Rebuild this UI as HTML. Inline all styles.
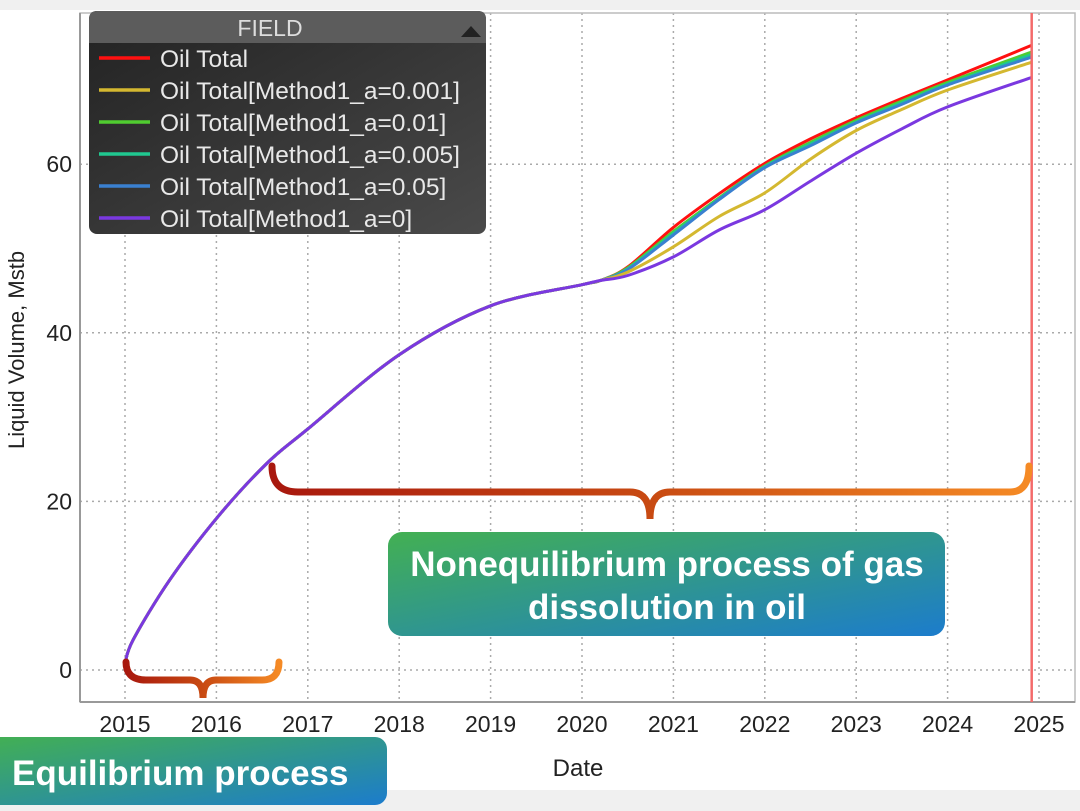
<!DOCTYPE html>
<html><head><meta charset="utf-8"><style>
body{margin:0;width:1080px;height:811px;overflow:hidden;background:#f0f0f0;font-family:"Liberation Sans",sans-serif}
</style></head><body>
<svg width="1080" height="811" style="position:absolute;left:0;top:0">
<defs>
<linearGradient id="br" x1="0" x2="1" y1="0" y2="0"><stop offset="0" stop-color="#a8180e"/><stop offset="0.5" stop-color="#c84a12"/><stop offset="1" stop-color="#f58a25"/></linearGradient>
<linearGradient id="bx" x1="0" x2="1" y1="0" y2="1"><stop offset="0" stop-color="#43b052"/><stop offset="1" stop-color="#1c7ccc"/></linearGradient>
<linearGradient id="lg" x1="0" x2="1" y1="0" y2="1"><stop offset="0" stop-color="#222"/><stop offset="1" stop-color="#4a4a4a"/></linearGradient>
</defs>
<rect x="0" y="10" width="1080" height="780" fill="#fff"/>
<g id="grid"></g>
<rect x="80" y="13" width="995" height="689" fill="none" stroke="#bbb" stroke-width="1.5"/>
<line x1="80" y1="13" x2="80" y2="702" stroke="#999" stroke-width="2"/>
<line x1="80" y1="702" x2="1075" y2="702" stroke="#999" stroke-width="2"/>
<g id="ticks"></g>
<g id="series"></g>
<line id="cursor" y1="13" y2="702" stroke="#f46a6a" stroke-width="2.5"/>
<text x="24" y="350" transform="rotate(-90 24 350)" text-anchor="middle" font-size="22" fill="#222">Liquid Volume, Mstb</text>
<text x="578" y="776" text-anchor="middle" font-size="24" fill="#222">Date</text>
<path d="M126,662 Q126,680 146,680 L190,680 Q203,680 203,698 Q203,680 216,680 L262,680 Q279,680 279,662" fill="none" stroke="url(#br)" stroke-width="7" stroke-linecap="round"/>
<path d="M272,466 Q272,492 298,492 L630,492 Q650,492 650,519 Q650,492 670,492 L1010,492 Q1029,492 1029,466" fill="none" stroke="url(#br)" stroke-width="7" stroke-linecap="round"/>
<rect x="388" y="532" width="557" height="104" rx="14" fill="url(#bx)"/>
<text x="667" y="576" text-anchor="middle" font-size="35" font-weight="bold" fill="#fff">Nonequilibrium process of gas</text>
<text x="667" y="619" text-anchor="middle" font-size="35" font-weight="bold" fill="#fff">dissolution in oil</text>
<rect x="-14" y="737" width="401" height="68" rx="12" fill="url(#bx)"/>
<text x="12" y="785" font-size="35" font-weight="bold" fill="#fff">Equilibrium process</text>
<g>
<rect x="89" y="11" width="397" height="223" rx="8" fill="url(#lg)"/>
<path d="M89,43 L89,19 Q89,11 97,11 L478,11 Q486,11 486,19 L486,43 Z" fill="#5c5c5c"/>
<text x="270" y="36" text-anchor="middle" font-size="23" fill="#ddd">FIELD</text>
<path d="M461,37 L471,26 L481,37 Z" fill="#222"/>
<g id="legitems"></g>
</g>
</svg>
<script>
const years=[2015,2016,2017,2018,2019,2020,2021,2022,2023,2024,2025];
const yTicks=[0,20,40,60];
const names=["Oil Total","Oil Total[Method1_a=0.001]","Oil Total[Method1_a=0.01]","Oil Total[Method1_a=0.005]","Oil Total[Method1_a=0.05]","Oil Total[Method1_a=0]"];
const colors=["#ff1010","#d4b830","#50cc30","#20c890","#3a80d0","#7a38e0"];
const dates=[2015.0,2015.09,2015.49,2016.01,2016.55,2016.99,2018.0,2019.0,2020.0,2020.2,2020.5,2021.0,2021.5,2022.0,2022.5,2023.0,2023.5,2024.0,2024.92];
const common=[0.8,3.6,10.7,18.1,24.5,28.5,37.4,43.2,45.7,46.2];
const tailRed=[47.8,52.5,56.5,60.1,63.0,65.5,67.8,70.0,74.1];
const tailYellow=[47.2,50.2,53.8,56.6,60.6,64.0,66.5,68.8,72.1];
const tailGreen=[47.7,52.0,56.0,59.8,62.6,65.2,67.5,69.7,73.3];
const tailTeal=[47.6,51.8,55.9,59.7,62.4,65.0,67.3,69.5,73.0];
const tailBlue=[47.5,51.6,55.8,59.6,62.2,64.9,67.1,69.4,72.7];
const tailPurple=[46.8,49.0,52.2,54.6,58.0,61.3,64.2,66.8,70.3];
const cursorDate=2024.92;
const tails=[tailRed,tailYellow,tailGreen,tailTeal,tailBlue,tailPurple];
const X=d=>125+(d-2015)*91.4, Y=v=>670-v*8.43;
const NS="http://www.w3.org/2000/svg";
function mk(t,a,p){const e=document.createElementNS(NS,t);for(const k in a)e.setAttribute(k,a[k]);p.appendChild(e);return e;}
const grid=document.getElementById('grid'),ticks=document.getElementById('ticks');
years.forEach(y=>{const g=mk('line',{x1:X(y),x2:X(y),y1:13,y2:702,stroke:'#aaa','stroke-dasharray':'2,4','stroke-width':1.5},grid);


const t=mk('text',{x:X(y),y:732,'text-anchor':'middle','font-size':23,fill:'#222'},ticks);t.textContent=y;

});
yTicks.forEach(v=>{const g=mk('line',{x1:80,x2:1075,y1:Y(v),y2:Y(v),stroke:'#aaa','stroke-dasharray':'2,4','stroke-width':1.5},grid);


const t=mk('text',{x:72,y:Y(v)+8,'text-anchor':'end','font-size':23,fill:'#222'},ticks);t.textContent=v;

});
const cur=document.getElementById('cursor');cur.setAttribute('x1',X(cursorDate));cur.setAttribute('x2',X(cursorDate));
const ser=document.getElementById('series');
function smooth(pts){let d='M'+pts[0][0].toFixed(1)+','+pts[0][1].toFixed(1);
for(let i=0;i<pts.length-1;i++){const p0=pts[Math.max(0,i-1)],p1=pts[i],p2=pts[i+1],p3=pts[Math.min(pts.length-1,i+2)];
const c1=[p1[0]+(p2[0]-p0[0])/6,p1[1]+(p2[1]-p0[1])/6],c2=[p2[0]-(p3[0]-p1[0])/6,p2[1]-(p3[1]-p1[1])/6];
d+='C'+c1.map(v=>v.toFixed(1)).join(',')+' '+c2.map(v=>v.toFixed(1)).join(',')+' '+p2[0].toFixed(1)+','+p2[1].toFixed(1);}
return d;}
[0,2,3,4,1,5].forEach(i=>{const vals=common.concat(tails[i]);
const pts=vals.map((v,j)=>[X(dates[j]),Y(v)]);
const p=mk('path',{d:smooth(pts),fill:'none',stroke:colors[i],'stroke-width':3,'stroke-linejoin':'round'},ser);

});
const li=document.getElementById('legitems');
names.forEach((n,i)=>{const y=58+i*32;
const l=mk('line',{x1:99,x2:150,y1:y,y2:y,stroke:colors[i],'stroke-width':3.5},li);


const t=mk('text',{x:160,y:y+9,'font-size':24.5,fill:'#e8e8e8'},li);t.textContent=n;

});
</script>
</body></html>
